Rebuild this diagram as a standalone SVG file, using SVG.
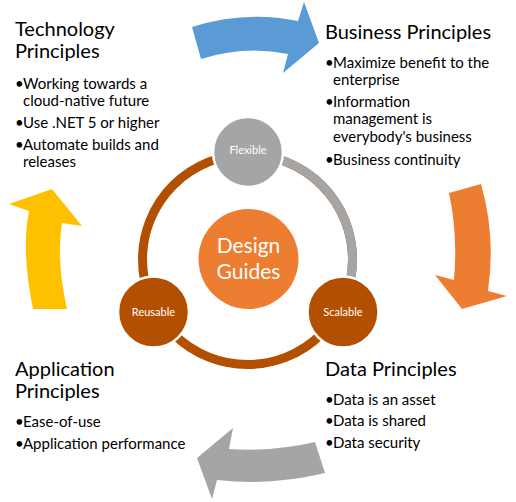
<svg xmlns="http://www.w3.org/2000/svg" width="516" height="502" viewBox="0 0 516 502">
<style>
text{font-family:Lato,"Open Sans","Liberation Sans",sans-serif;fill:#000}
.h{font-size:20px}
.b{font-size:15px}
.n{font-size:11px;fill:#fff;text-anchor:middle}
.c{font-size:21px;fill:#fff;text-anchor:middle}
.node{stroke:#fff;stroke-width:2.5}
</style>
<rect width="516" height="502" fill="#fff"/>
<g id="connectors">
<path id="arrow-blue" d="M192,27 Q245,10 298,21 L304,2 L319,43 L283,73 L288,54 Q245,45 201,59 Z" fill="#5B9BD5"/>
<path id="arrow-orange" d="M449,193 L481,184 Q496,236 488,291 L507,296 L462,309 L435,275 L454,280 Q458,235 449,193 Z" fill="#ED7D31"/>
<path id="arrow-gray" d="M197,458 L233,428 L229,449 Q272,452 315,442 L325,473 Q271,486 217,480 L212,499 Z" fill="#A5A5A5"/>
<path id="arrow-yellow" d="M52,189 L82,226 L62,223 Q56,260 67,309 L33,309 Q21,250 29,211 L9,204 Z" fill="#FFC000"/>
<circle id="ring" cx="247.5" cy="259.5" r="105" fill="none" stroke="#B34F00" stroke-width="9"/>
<path id="ring-gray" d="M247.5,154.5 A105,105 0 0 1 338.4,312" fill="none" stroke="#A5A5A5" stroke-width="9"/>
</g>
<g id="center">
<circle cx="248.5" cy="259" r="50" fill="#ED7D31"/>
<text class="c" x="248.5" y="252.5">Design</text>
<text class="c" x="248.5" y="279">Guides</text>
</g>
<g id="flexible">
<circle class="node" cx="248" cy="152" r="35" fill="#A5A5A5"/>
<text class="n" x="248" y="154">Flexible</text>
</g>
<g id="reusable">
<circle class="node" cx="153.5" cy="312" r="35.5" fill="#B34F00"/>
<text class="n" x="153.5" y="316">Reusable</text>
</g>
<g id="scalable">
<circle class="node" cx="343" cy="312" r="35.5" fill="#B34F00"/>
<text class="n" x="343" y="316">Scalable</text>
</g>
<g id="technology">
<text class="h" x="15" y="36">Technology</text>
<text class="h" x="15" y="58">Principles</text>
<text class="b" y="89"><tspan x="15">•</tspan><tspan x="23">Working towards a</tspan></text>
<text class="b" x="23" y="106">cloud-native future</text>
<text class="b" y="128"><tspan x="15">•</tspan><tspan x="23">Use .NET 5 or higher</tspan></text>
<text class="b" y="150"><tspan x="15">•</tspan><tspan x="23">Automate builds and</tspan></text>
<text class="b" x="23" y="167">releases</text>
</g>
<g id="business">
<text class="h" x="325" y="39">Business Principles</text>
<text class="b" y="68"><tspan x="325">•</tspan><tspan x="333">Maximize benefit to the</tspan></text>
<text class="b" x="333" y="85">enterprise</text>
<text class="b" y="107"><tspan x="325">•</tspan><tspan x="333">Information</tspan></text>
<text class="b" x="333" y="124">management is</text>
<text class="b" x="333" y="142">everybody's business</text>
<text class="b" y="165"><tspan x="325">•</tspan><tspan x="333">Business continuity</tspan></text>
</g>
<g id="data">
<text class="h" x="325" y="376">Data Principles</text>
<text class="b" y="405"><tspan x="325">•</tspan><tspan x="333">Data is an asset</tspan></text>
<text class="b" y="426"><tspan x="325">•</tspan><tspan x="333">Data is shared</tspan></text>
<text class="b" y="448"><tspan x="325">•</tspan><tspan x="333">Data security</tspan></text>
</g>
<g id="application">
<text class="h" x="15" y="376">Application</text>
<text class="h" x="15" y="398">Principles</text>
<text class="b" y="427"><tspan x="15">•</tspan><tspan x="23">Ease-of-use</tspan></text>
<text class="b" y="449"><tspan x="15">•</tspan><tspan x="23">Application performance</tspan></text>
</g>
</svg>
